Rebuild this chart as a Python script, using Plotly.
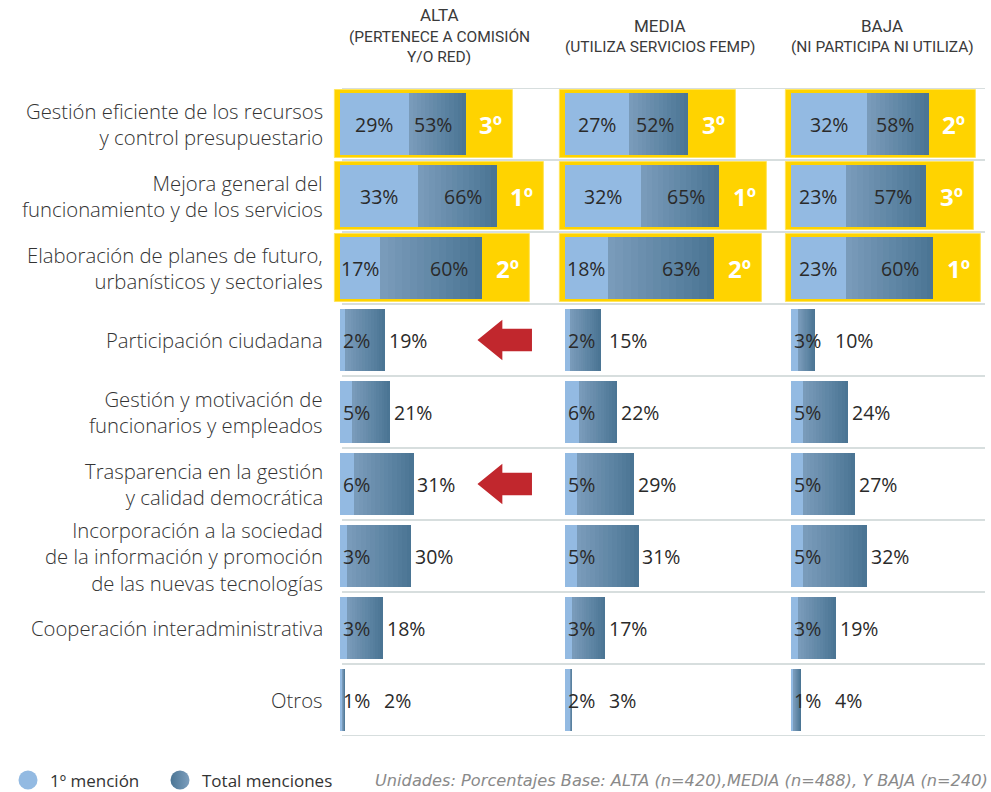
import plotly.graph_objects as go

# ---------------- data ----------------
categories = [
    "Gestión eficiente de los recursos<br>y control presupuestario",
    "Mejora general del<br>funcionamiento y de los servicios",
    "Elaboración de planes de futuro,<br>urbanísticos y sectoriales",
    "Participación ciudadana",
    "Gestión y motivación de<br>funcionarios y empleados",
    "Trasparencia en la gestión<br>y calidad democrática",
    "Incorporación a la sociedad<br>de la información y promoción<br>de las nuevas tecnologías",
    "Cooperación interadministrativa",
    "Otros",
]
groups = ["ALTA", "MEDIA", "BAJA"]
group_subtitles = [["(PERTENECE A COMISIÓN", "Y/O RED)"], ["(UTILIZA SERVICIOS FEMP)"], ["(NI PARTICIPA NI UTILIZA)"]]

first_alta = [29, 33, 17, 2, 5, 6, 3, 3, 1]
total_alta = [53, 66, 60, 19, 21, 31, 30, 18, 2]
first_media = [27, 32, 18, 2, 6, 5, 5, 3, 2]
total_media = [52, 65, 63, 15, 22, 29, 31, 17, 3]
first_baja = [32, 23, 23, 3, 5, 5, 5, 3, 1]
total_baja = [58, 57, 60, 10, 24, 27, 32, 19, 4]

rank_alta = ["3º", "1º", "2º"]
rank_media = ["3º", "1º", "2º"]
rank_baja = ["2º", "3º", "1º"]

arrow_rows_alta = [3, 5]  # rows highlighted with red arrows in ALTA panel

legend_labels = ["1º mención", "Total menciones"]
footnote = "Unidades: Porcentajes Base: ALTA (n=420),MEDIA (n=488), Y BAJA (n=240)"

# ---------------- styling / layout ----------------
W, H = 991, 792
FONT = "Open Sans"
HFONT = "Roboto"
LIGHT = "#93bae2"
DARK_L = (0x7d, 0x9e, 0xbd)
DARK_R = (0x4b, 0x75, 0x94)
YELLOW = "#ffd300"
GRID = "#d7dede"
TXT = "#2a2a2a"


def px(x):
    return x / W


def py(y):
    return 1 - y / H


S = 2.37  # px per percent
origins = [340, 565, 791]
xmax = [90, 90, 82]
XMIN = -3

firsts = [first_alta, first_media, first_baja]
totals = [total_alta, total_media, total_baja]
ranks = [rank_alta, rank_media, rank_baja]

n = len(categories)
ys = list(range(n))
y_dom = [py(736), py(88)]

fig = go.Figure()
NSTEP = 14


def rgb(t):
    c = [round(DARK_L[i] + (DARK_R[i] - DARK_L[i]) * t) for i in range(3)]
    return f"rgb({c[0]},{c[1]},{c[2]})"


annotations = []
shapes = []
layout_axes = {}
PCT = 19.5

for g in range(3):
    xa = "x" if g == 0 else f"x{g+1}"
    xname = "xaxis" if g == 0 else f"xaxis{g+1}"
    o = origins[g]
    layout_axes[xname] = dict(domain=[px(o + XMIN * S), px(o + xmax[g] * S)],
                              range=[XMIN, xmax[g]], visible=False, fixedrange=True)
    f = firsts[g]
    t = totals[g]
    r = ranks[g]
    nr = len(r)
    # yellow highlight boxes for ranked rows
    fig.add_trace(go.Bar(
        y=ys[:nr], x=[t[i] + 20 + 2 for i in range(nr)], base=[-2] * nr,
        orientation="h", width=0.95, marker=dict(color=YELLOW, line=dict(color="#ffe55c", width=1)),
        xaxis=xa, yaxis="y", showlegend=False, hoverinfo="skip"))
    # gradient total bars
    for k in range(NSTEP, 0, -1):
        frac = k / NSTEP
        fig.add_trace(go.Bar(
            y=ys, x=[f[i] + (t[i] - f[i]) * frac for i in range(n)],
            orientation="h", width=0.85, marker=dict(color=rgb(frac), line=dict(width=0)),
            xaxis=xa, yaxis="y", showlegend=False, hoverinfo="skip"))
    # first mention bars
    fig.add_trace(go.Bar(
        y=ys, x=f, orientation="h", width=0.85,
        marker=dict(color=LIGHT, line=dict(width=0)),
        xaxis=xa, yaxis="y", showlegend=False, hoverinfo="skip"))

    # labels
    for i in range(n):
        if i < nr:
            annotations.append(dict(x=f[i] / 2, y=i, xref=xa, yref="y", text=f"{f[i]}%",
                                    showarrow=False, xanchor="center",
                                    font=dict(size=PCT, color=TXT, family=FONT)))
            annotations.append(dict(x=t[i], y=i, xref=xa, yref="y", text=f"{t[i]}%",
                                    showarrow=False, xanchor="right", xshift=-12,
                                    font=dict(size=PCT, color=TXT, family=FONT)))
            annotations.append(dict(x=t[i], y=i, xref=xa, yref="y", text=f"<b>{r[i]}</b>",
                                    showarrow=False, xanchor="center", xshift=25,
                                    font=dict(size=24, color="white", family=FONT)))
        else:
            annotations.append(dict(x=0, y=i, xref=xa, yref="y", text=f"{f[i]}%",
                                    showarrow=False, xanchor="left", xshift=1,
                                    font=dict(size=PCT, color=TXT, family=FONT)))
            annotations.append(dict(x=max(t[i], 17), y=i, xref=xa, yref="y", text=f"{t[i]}%",
                                    showarrow=False, xanchor="left", xshift=2,
                                    font=dict(size=PCT, color=TXT, family=FONT)))

# group headers
hdr_cx = [439, 660, 882]
hdr_y = [[15, 37, 57], [26, 47], [26, 47]]
for g in range(3):
    lines = [groups[g]] + group_subtitles[g]
    for j, txt in enumerate(lines):
        annotations.append(dict(x=px(hdr_cx[g]), y=py(hdr_y[g][j]), xref="paper", yref="paper",
                                text=txt, showarrow=False, xanchor="center", yanchor="middle",
                                font=dict(size=17 if j == 0 else 15.5, color="#3a3a3a", family=HFONT)))

# category labels
for i, c in enumerate(categories):
    annotations.append(dict(x=px(325), y=i, xref="paper", yref="y", text=c, showarrow=False,
                            xanchor="right", yanchor="middle", align="right",
                            font=dict(size=20.3, color="#333", family=FONT, weight=300)))

# grid lines between rows
for k in range(n + 1):
    shapes.append(dict(type="line", xref="paper", yref="y", x0=px(342), x1=px(985),
                       y0=k - 0.5, y1=k - 0.5, line=dict(color=GRID, width=2), layer="below"))

# red arrows (ALTA panel)
for rI in arrow_rows_alta:
    tip, hb, tail = 58, 68.5, 81
    hh, bh = 0.28, 0.155
    path = (f"M {tip},{rI} L {hb},{rI-hh} L {hb},{rI-bh} L {tail},{rI-bh} "
            f"L {tail},{rI+bh} L {hb},{rI+bh} L {hb},{rI+hh} Z")
    shapes.append(dict(type="path", xref="x", yref="y", path=path,
                       fillcolor="#c1272d", line=dict(width=0), layer="above"))

# footnote
annotations.append(dict(x=px(990), y=py(780), xref="paper", yref="paper", text=f"<i>{footnote}</i>",
                        showarrow=False, xanchor="right", yanchor="middle",
                        font=dict(size=16.2, color="#8a8a8a", family="DejaVu Sans")))

# custom legend (circles on a full-figure axis in pixel units)
layout_axes["xaxis4"] = dict(domain=[0, 1], range=[0, W], visible=False, fixedrange=True, anchor="y2")
leg_x = [28, 180]
leg_y = 780
fig.add_trace(go.Scatter(x=[leg_x[0]], y=[leg_y], mode="markers", xaxis="x4", yaxis="y2",
                         marker=dict(symbol="circle", size=19, color=LIGHT, line=dict(width=0)),
                         showlegend=False, hoverinfo="skip", cliponaxis=False))
fig.add_trace(go.Scatter(x=[leg_x[1]], y=[leg_y], mode="markers", xaxis="x4", yaxis="y2",
                         marker=dict(symbol="circle", size=19, color=rgb(1.0), line=dict(width=0),
                                     gradient=dict(type="horizontal", color=rgb(0.0))),
                         showlegend=False, hoverinfo="skip", cliponaxis=False))
for j, lab in enumerate(legend_labels):
    annotations.append(dict(x=px(leg_x[j] + 20), y=py(leg_y), xref="paper", yref="paper", text=lab,
                            showarrow=False, xanchor="left", yanchor="middle",
                            font=dict(size=17, color="#333", family=FONT)))

fig.update_layout(
    width=W, height=H,
    margin=dict(l=0, r=0, t=0, b=0),
    paper_bgcolor="white", plot_bgcolor="rgba(0,0,0,0)",
    barmode="overlay", bargap=0,
    yaxis=dict(domain=y_dom, range=[n - 0.5, -0.5], visible=False, fixedrange=True),
    yaxis2=dict(domain=[0, 1], range=[H, 0], visible=False, fixedrange=True, anchor="x4"),
    annotations=annotations, shapes=shapes,
    showlegend=False,
    font=dict(family=FONT),
    **layout_axes,
)

fig.write_html("out.html", config={"displayModeBar": False},
               post_script="document.body.style.margin='0px';document.body.style.overflow='hidden';")
